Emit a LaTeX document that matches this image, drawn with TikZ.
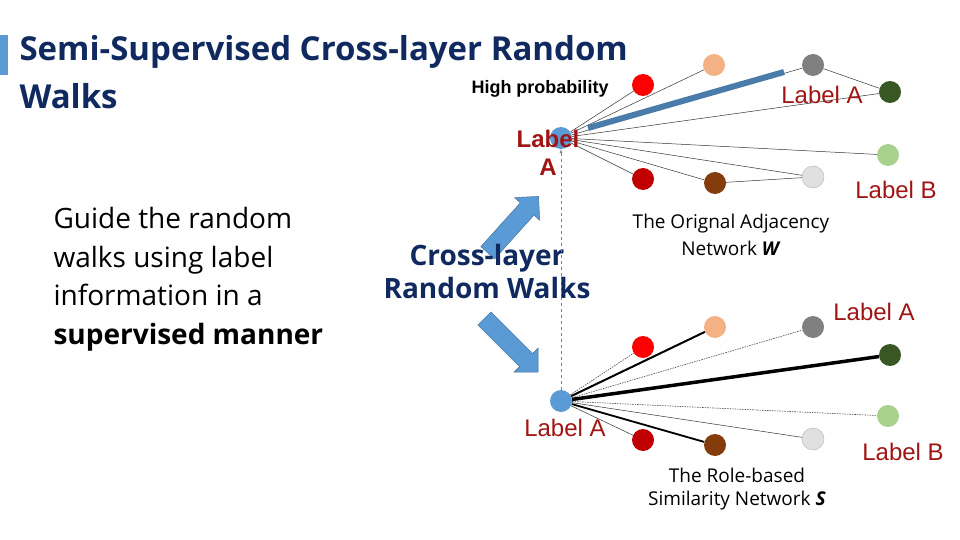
\documentclass[tikz,border=0pt]{standalone}
\usepackage{fontspec}
\setmainfont{Open Sans}
\newfontfamily\arial{Liberation Sans}
\usetikzlibrary{shapes.arrows}
\definecolor{tblue}{RGB}{16,42,96}
\definecolor{lred}{RGB}{160,20,20}
\definecolor{nblue}{RGB}{91,155,213}
\definecolor{cpeach}{RGB}{244,177,131}
\definecolor{cdgreen}{RGB}{56,87,35}
\definecolor{clgreen}{RGB}{169,209,142}
\definecolor{cbrown}{RGB}{133,60,12}
\definecolor{cdred}{RGB}{192,0,0}
\tikzset{
 nd/.style={circle,minimum size=22pt,inner sep=0pt,fill=#1},
 lab/.style={font=\arial\fontsize{24}{26}\selectfont,text=lred,align=center},
 thin/.style={draw=black!80,line width=0.5pt},
 dot/.style={draw=black!70,line width=0.6pt,dash pattern=on 1.5pt off 1pt},
 barrow/.style={single arrow,fill=nblue,draw=nblue!70!black,minimum height=76pt,minimum width=34pt,single arrow head extend=5pt,inner sep=4pt,shape border uses incircle}
}
\begin{document}
\begin{tikzpicture}[x=1pt,y=-1pt]
\useasboundingbox (0,0) rectangle (960,540);
\fill[nblue] (0,35) rectangle (8,75);
\node[anchor=west,text=tblue,font=\bfseries\fontsize{33}{36}\selectfont] (t1) at (16,52) {Semi-Supervised Cross-layer Random};
\node[anchor=west,text=tblue,font=\bfseries\fontsize{33}{36}\selectfont] (t2) at (16,96) {Walks};
\node[anchor=west,align=left,font=\fontsize{28}{38.5}\selectfont] (g) at (50,279) {Guide the random\\walks using label\\information in a\\\textbf{supervised manner}};
% block arrows
\node[barrow,rotate=48] (ar1) at (510,228) {};
\node[barrow,rotate=-45] (ar2) at (508,342) {};
\node[font=\bfseries\fontsize{28}{33}\selectfont,text=tblue,align=center] (cr) at (487,271) {Cross-layer\\Random Walks};
\node[font=\arial\bfseries\fontsize{18}{20}\selectfont] (hp) at (540,89) {High probability};
% top network
\node[nd=nblue] (c) at (561,138) {};
\node[nd=red] (a1) at (643,85) {};
\node[nd=cpeach] (a2) at (714,65) {};
\node[nd=gray] (a3) at (813,65) {};
\node[nd=cdgreen] (a4) at (890,92) {};
\node[nd=clgreen] (a5) at (888,155) {};
\node[nd=black!12,draw=black!30] (a6) at (813,177) {};
\node[nd=cbrown] (a7) at (715,183) {};
\node[nd=cdred] (a8) at (643,179) {};
\foreach \i in {1,...,8} \draw[thin] (c) -- (a\i);
\draw[thin] (a3) -- (a4);
\draw[thin] (a7) -- (a6);
\coordinate (hs) at (588,128);
\coordinate (he) at (784,72);
\draw[nblue!80!black,line width=6pt] (hs) -- (he);
% bottom network
\node[nd=nblue] (d) at (561,401) {};
\node[nd=red] (b1) at (643,347) {};
\node[nd=cpeach] (b2) at (715,327) {};
\node[nd=gray] (b3) at (813,327) {};
\node[nd=cdgreen] (b4) at (890,355) {};
\node[nd=clgreen] (b5) at (888,416) {};
\node[nd=black!12,draw=black!30] (b6) at (813,439) {};
\node[nd=cbrown] (b7) at (715,445) {};
\node[nd=cdred] (b8) at (643,440) {};
\draw[dot] (d) -- (b1);
\draw[line width=2pt] (d) -- (b2);
\draw[dot] (d) -- (b3);
\draw[line width=3.5pt] (d) -- (b4);
\draw[dot] (d) -- (b5);
\draw[thin] (d) -- (b6);
\draw[line width=1.8pt] (d) -- (b7);
\draw[thin] (d) -- (b8);
% vertical dashed
\draw[gray,dashed,-latex] (d.north) -- (c.south);
% labels
\node[lab] (l1) at (822,95) {Label A};
\node[lab,font=\arial\bfseries\fontsize{24}{28}\selectfont] (l2) at (548,153) {Label\\A};
\node[lab] (l3) at (896,190) {Label B};
\node[lab] (l4) at (874,312) {Label A};
\node[lab] (l5) at (565,428) {Label A};
\node[lab] (l6) at (903,452) {Label B};
\node[align=center,font=\fontsize{19}{27}\selectfont] (n1) at (731,235) {The Orignal Adjacency\\Network \textbf{\textit{W}}};
\node[align=center,font=\fontsize{19}{23}\selectfont] (n2) at (737,489) {The Role-based\\Similarity Network \textbf{\textit{S}}};
\end{tikzpicture}
\end{document}
